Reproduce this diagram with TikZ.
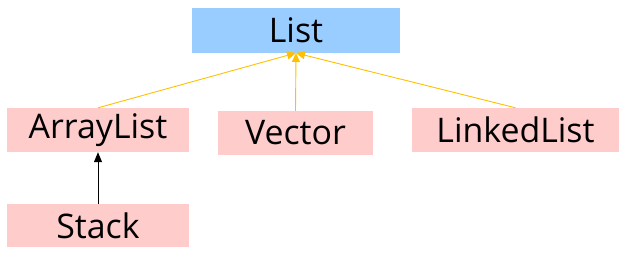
\documentclass[tikz,border=0pt]{standalone}
\usepackage{fontspec}
\setmainfont{Open Sans}
\usetikzlibrary{arrows.meta}
\definecolor{listblue}{HTML}{99CCFF}
\definecolor{classpink}{HTML}{FFCCCC}
\definecolor{linkyellow}{HTML}{FFC000}
\tikzset{
  classbox/.style={fill=classpink, inner sep=0pt, minimum height=44bp,
    font=\fontsize{34}{40}\selectfont},
  implements/.style={linkyellow, line width=0.9bp, -{Triangle[width=8bp,length=9bp]}},
  extends/.style={black, line width=0.9bp, -{Triangle[width=8bp,length=10bp]}}
}
\begin{document}
\begin{tikzpicture}[x=1bp, y=1bp]
  \useasboundingbox (0,0) rectangle (626,254);
  % 接口
  \node[classbox, fill=listblue, minimum width=208bp, minimum height=45bp] (list) at (296,223.7) {List};
  % 实现类
  \node[classbox, minimum width=182bp] (arraylist) at (98,124) {ArrayList};
  \node[classbox, minimum width=155bp] (vector) at (295.5,121) {Vector};
  \node[classbox, minimum width=207bp] (linkedlist) at (515.5,124) {LinkedList};
  % 子类
  \node[classbox, minimum width=182bp, minimum height=43bp] (stack) at (98,28.5) {Stack};
  % 连线
  \draw[implements] (arraylist.north) -- (list.south);
  \draw[implements] (vector.north) -- (list.south);
  \draw[implements] (linkedlist.north) -- (list.south);
  \draw[extends] (stack.north) -- (arraylist.south);
\end{tikzpicture}
\end{document}
